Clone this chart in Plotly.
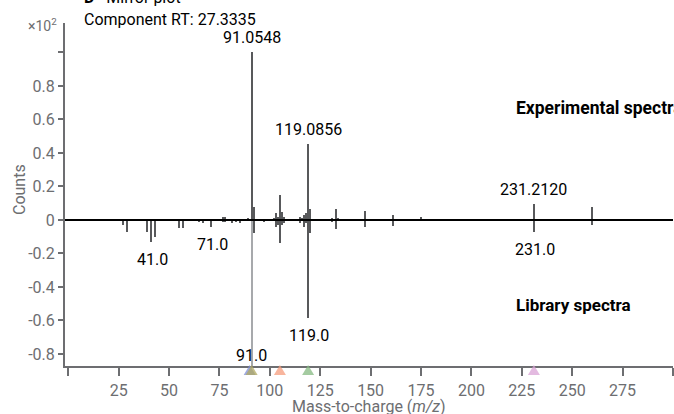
import plotly.graph_objects as go

# ---------------- data ----------------
exp_mz = [39, 65, 77, 78, 89, 91, 92, 102, 103, 104, 105, 106, 107, 115, 116, 117, 118, 119, 120,
          128, 131, 133, 134, 147, 159, 161, 175, 189, 207, 231, 260]
exp_int = [0.005, 0.005, 0.02, 0.015, 0.01, 1.0, 0.08, 0.01, 0.04, 0.02, 0.15, 0.05, 0.02, 0.02, 0.01,
           0.03, 0.04, 0.454, 0.065, 0.005, 0.01, 0.065, 0.01, 0.055, 0.005, 0.03, 0.015, 0.005, 0.005,
           0.095, 0.08]

lib_mz = [27, 29, 39, 41, 43, 55, 57, 65, 67, 71, 77, 78, 81, 83, 85, 91, 92, 97, 103, 104, 105, 106,
          107, 115, 117, 118, 119, 120, 131, 133, 147, 161, 231, 260]
lib_int = [-0.03, -0.07, -0.07, -0.13, -0.10, -0.05, -0.05, -0.01, -0.02, -0.04, -0.015, -0.01, -0.02,
           -0.015, -0.02, -1.0, -0.075, -0.01, -0.04, -0.03, -0.135, -0.03, -0.02, -0.02, -0.04, -0.02,
           -0.585, -0.08, -0.01, -0.055, -0.04, -0.035, -0.07, -0.03]

exp_label_mz = [91, 119, 231]
exp_label_text = ["91.0548", "119.0856", "231.2120"]
lib_label_mz = [41, 71, 91, 119, 231]
lib_label_text = ["41.0", "71.0", "91.0", "119.0", "231.0"]

marker_mz = [90, 91, 105, 119, 231]
marker_colors = ["#7f8fd6", "#b0a860", "#f59c7c", "#86b982", "#d9a3d6"]

x_ticks = [0, 25, 50, 75, 100, 125, 150, 175, 200, 225, 250, 275, 300]
x_ticktext = ["", "25", "50", "75", "100", "125", "150", "175", "200", "225", "250", "275", ""]
y_ticks = [-0.8, -0.6, -0.4, -0.2, 0, 0.2, 0.4, 0.6, 0.8, 1.0]
y_ticktext = ["-0.8", "-0.6", "-0.4", "-0.2", "0", "0.2", "0.4", "0.6", "0.8", ""]

# ---------------- layout constants ----------------
W, H = 674, 414
ML, MR, MT, MB = 65, 1, 23, 48
XR = [-1.6, 300]
YR = [-0.872, 1.176]
FONT = "Roboto, 'Open Sans', sans-serif"
GRAY = "#6d6e71"
BAR = "#58595b"

def px_x(p):
    return (p - ML) / (W - ML - MR)

def px_y(p):
    return (H - MB - p) / (H - MT - MB)

fig = go.Figure()

fig.add_trace(go.Bar(x=exp_mz, y=exp_int, width=1.0, marker=dict(color=BAR, line=dict(width=0)),
                     showlegend=False, hoverinfo="x+y"))
lib_colors = ["#a7a9ac" if v <= -0.9 else BAR for v in lib_int]
fig.add_trace(go.Bar(x=lib_mz, y=lib_int, width=1.0, marker=dict(color=lib_colors, line=dict(width=0)),
                     showlegend=False, hoverinfo="x+y"))

# triangles just under the x axis (pixel-sized shapes anchored at each m/z)
for m, c in zip(marker_mz, marker_colors):
    fig.add_shape(type="path", xref="x", yref="paper", xsizemode="pixel", ysizemode="pixel",
                  xanchor=m, yanchor=0, path="M -6,-9 L 6,-9 L 0,1 Z",
                  fillcolor=c, opacity=0.75, line=dict(width=0), layer="above")

# zero line above bars
fig.add_shape(type="line", xref="paper", x0=0, x1=1, yref="y", y0=0, y1=0,
              line=dict(color="black", width=2), layer="above")

annotations = []
exp_lookup = dict(zip(exp_mz, exp_int))
lib_lookup = dict(zip(lib_mz, lib_int))
for m, t in zip(exp_label_mz, exp_label_text):
    annotations.append(dict(x=m, y=exp_lookup[m], text=t, showarrow=False, xanchor="center",
                            yanchor="bottom", yshift=3, font=dict(family=FONT, size=16, color="black")))
for m, t in zip(lib_label_mz, lib_label_text):
    v = lib_lookup[m]
    if v < YR[0]:
        annotations.append(dict(x=m, y=YR[0], text=t, showarrow=False, xanchor="center",
                                yanchor="bottom", yshift=-1, font=dict(family=FONT, size=16, color="black")))
    else:
        annotations.append(dict(x=m + 0.6, y=v, text=t, showarrow=False, xanchor="center",
                                yanchor="top", yshift=-6, font=dict(family=FONT, size=16, color="black")))

annotations += [
    dict(xref="paper", yref="paper", x=px_x(42), y=px_y(25), text="×10<sup>2</sup>", showarrow=False,
         xanchor="center", yanchor="middle", font=dict(family=FONT, size=14, color=GRAY)),
    dict(xref="paper", yref="paper", x=px_x(82), y=px_y(20), text="Component RT: 27.3335", showarrow=False,
         xanchor="left", yanchor="middle", font=dict(family=FONT, size=16, color="black")),
    dict(xref="paper", yref="paper", x=px_x(82), y=px_y(-3), text="<b>D</b>   Mirror plot", showarrow=False,
         xanchor="left", yanchor="middle", font=dict(family=FONT, size=16, color="black")),
    dict(xref="paper", yref="paper", x=px_x(514), y=px_y(108), text="<b>Experimental spectra</b>",
         showarrow=False, xanchor="left", yanchor="middle", font=dict(family=FONT, size=17.5, color="black")),
    dict(xref="paper", yref="paper", x=px_x(514), y=px_y(305), text="<b>Library spectra</b>",
         showarrow=False, xanchor="left", yanchor="middle", font=dict(family=FONT, size=17, color="black")),
    dict(xref="paper", yref="paper", x=px_x(369), y=px_y(406), text="Mass-to-charge (<i>m/z</i>)",
         showarrow=False, xanchor="center", yanchor="middle", font=dict(family=FONT, size=16, color=GRAY)),
    dict(xref="paper", yref="paper", x=px_x(19), y=px_y(190), text="Counts", textangle=-90,
         showarrow=False, xanchor="center", yanchor="middle", font=dict(family=FONT, size=16, color=GRAY)),
]

fig.update_layout(
    width=W, height=H,
    margin=dict(l=ML, r=MR, t=MT, b=MB, pad=0, autoexpand=False),
    paper_bgcolor="white", plot_bgcolor="white",
    barmode="overlay", bargap=0,
    annotations=annotations,
    font=dict(family=FONT, color=GRAY),
    xaxis=dict(range=XR, tickvals=x_ticks, ticktext=x_ticktext, ticks="outside", ticklen=8, tickwidth=2,
               tickcolor=GRAY, showline=True, linecolor=GRAY, linewidth=2, showgrid=False, zeroline=False,
               automargin=False, ticklabelstandoff=1, tickfont=dict(family=FONT, size=16, color=GRAY)),
    yaxis=dict(range=YR, tickvals=y_ticks, ticktext=y_ticktext, ticks="outside", ticklen=5, tickwidth=2,
               tickcolor=GRAY, showline=True, linecolor=GRAY, linewidth=2, showgrid=False, zeroline=False,
               automargin=False, tickfont=dict(family=FONT, size=16, color=GRAY)),
)

fig.write_html("out.html", config={"displayModeBar": False},
               post_script="document.body.style.margin='0';document.body.style.overflow='hidden';")
